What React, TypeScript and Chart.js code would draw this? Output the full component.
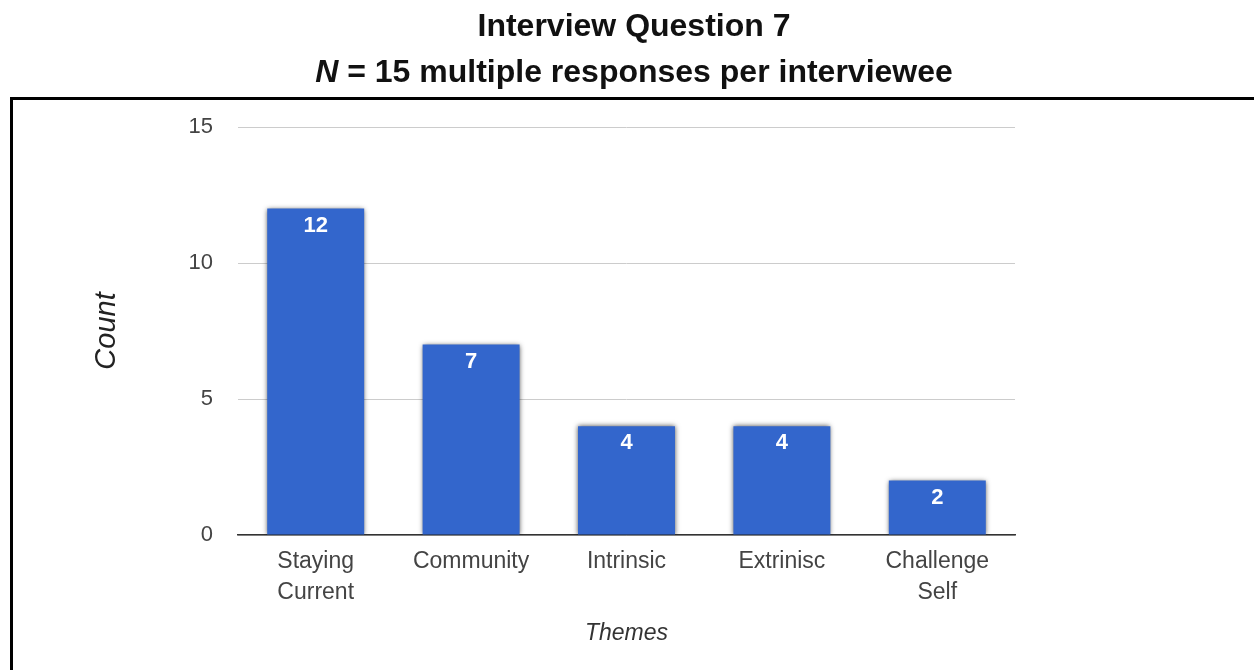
import React, { useEffect, useRef } from "react";
import { Chart, registerables } from "chart.js";

Chart.register(...registerables);

const categories: (string | string[])[] = [
  ["Staying", "Current"],
  "Community",
  "Intrinsic",
  "Extrinisc",
  ["Challenge", "Self"],
];
const counts: number[] = [12, 7, 4, 4, 2];
const yTickValues: number[] = [0, 5, 10, 15];
const titleLine1 = "Interview Question 7";
const titleItalicPart = "N";
const titleRestPart = " = 15 multiple responses per interviewee";
const yAxisTitle = "Count";
const xAxisTitle = "Themes";

const FONT = "'Liberation Sans', Arial, Helvetica, sans-serif";
const BAR_COLOR = "#3366CC";

const framePlugin = {
  id: "frameAndTitles",
  beforeDraw(chart: any) {
    const ctx = chart.ctx as CanvasRenderingContext2D;
    ctx.save();
    ctx.fillStyle = "#000";
    ctx.fillRect(10, 97, chart.width - 10, 3);
    ctx.fillRect(10, 97, 3, chart.height - 97);

    const cx = 634;
    ctx.textBaseline = "middle";
    ctx.fillStyle = "#111";
    ctx.font = `bold 32px ${FONT}`;
    ctx.textAlign = "center";
    ctx.fillText(titleLine1, cx, 27);

    ctx.textAlign = "left";
    ctx.font = `italic bold 32px ${FONT}`;
    const w1 = ctx.measureText(titleItalicPart).width;
    ctx.font = `bold 32px ${FONT}`;
    const w2 = ctx.measureText(titleRestPart).width;
    const startX = cx - (w1 + w2) / 2;
    ctx.font = `italic bold 32px ${FONT}`;
    ctx.fillText(titleItalicPart, startX, 73);
    ctx.font = `bold 32px ${FONT}`;
    ctx.fillText(titleRestPart, startX + w1, 73);
    ctx.restore();
  },
};

const barDecorPlugin = {
  id: "barDecor",
  beforeDatasetsDraw(chart: any) {
    const ctx = chart.ctx as CanvasRenderingContext2D;
    ctx.save();
    ctx.shadowColor = "rgba(0,0,0,0.7)";
    ctx.shadowBlur = 5;
    ctx.shadowOffsetX = 0;
    ctx.shadowOffsetY = 0;
  },
  afterDatasetsDraw(chart: any) {
    const ctx = chart.ctx as CanvasRenderingContext2D;
    ctx.restore();
    const meta = chart.getDatasetMeta(0);
    ctx.save();
    ctx.fillStyle = "#fff";
    ctx.font = `bold 22px ${FONT}`;
    ctx.textAlign = "center";
    ctx.textBaseline = "middle";
    meta.data.forEach((bar: any, i: number) => {
      ctx.fillText(String(counts[i]), bar.x, bar.y + 17);
    });
    ctx.restore();
  },
};

export default function App() {
  const canvasRef = useRef<HTMLCanvasElement | null>(null);

  useEffect(() => {
    if (!canvasRef.current) return;
    const chart = new Chart(canvasRef.current, {
      type: "bar",
      data: {
        labels: categories,
        datasets: [
          {
            data: counts,
            backgroundColor: BAR_COLOR,
            borderWidth: 0,
            barPercentage: 0.624,
            categoryPercentage: 1,
          },
        ],
      },
      options: {
        responsive: false,
        animation: false,
        layout: { padding: { left: 0, top: 127, right: 239, bottom: 0 } },
        plugins: {
          legend: { display: false },
          tooltip: { enabled: false },
          title: { display: false },
        },
        scales: {
          x: {
            z: 1,
            grid: { display: false, drawTicks: false },
            border: { display: true, color: "#333", width: 1.5 },
            ticks: {
              color: "#444",
              padding: 11.5,
              font: { family: FONT, size: 23, lineHeight: 1.348 },
              maxRotation: 0,
              autoSkip: false,
            },
            title: {
              display: true,
              text: xAxisTitle,
              color: "#333",
              font: { family: FONT, size: 23, style: "italic", lineHeight: 1.2 },
              padding: { top: 0, bottom: 23 },
            },
            afterFit(scale: any) {
              scale.height = 135;
            },
          },
          y: {
            min: 0,
            max: 15,
            grid: { color: "#cccccc", lineWidth: 1, drawTicks: false },
            border: { display: false },
            afterBuildTicks(scale: any) {
              scale.ticks = yTickValues.map((v) => ({ value: v }));
            },
            ticks: {
              color: "#444",
              padding: 25,
              font: { family: FONT, size: 22 },
            },
            title: {
              display: true,
              text: yAxisTitle,
              color: "#222",
              font: { family: FONT, size: 29, style: "italic", lineHeight: 1.2 },
              padding: { top: 90, bottom: 0 },
            },
            afterFit(scale: any) {
              scale.width = 238;
            },
          },
        },
      },
      plugins: [framePlugin, barDecorPlugin],
    });
    return () => chart.destroy();
  }, []);

  return (
    <div style={{ position: "fixed", left: 0, top: 0, width: 1254, height: 670, background: "#fff" }}>
      <canvas ref={canvasRef} width={1254} height={670} style={{ display: "block" }} />
    </div>
  );
}
